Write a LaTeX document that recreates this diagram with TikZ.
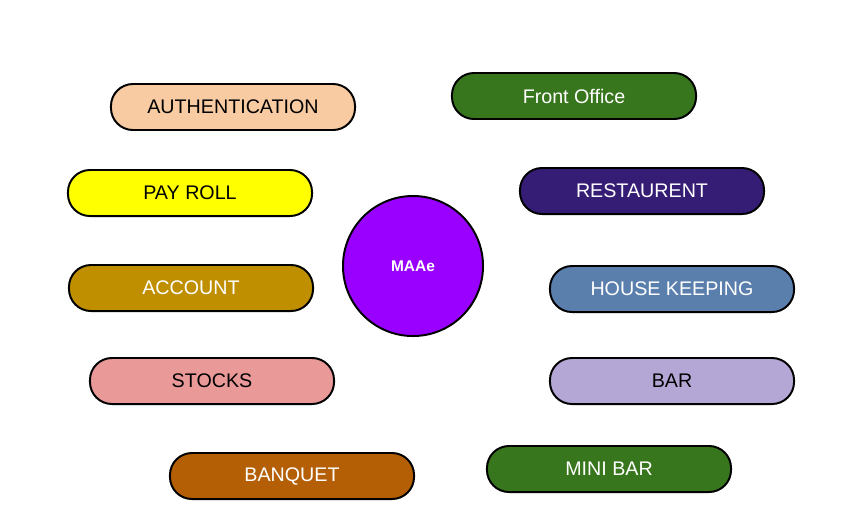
\documentclass[tikz,border=0pt]{standalone}
\usepackage{fontspec}
\setmainfont{Liberation Sans}
\usetikzlibrary{shapes.geometric}

\definecolor{authcol}{HTML}{F8CBA2}
\definecolor{paycol}{HTML}{FFFF00}
\definecolor{acccol}{HTML}{BF8F00}
\definecolor{stockcol}{HTML}{EA9999}
\definecolor{banqcol}{HTML}{B45F06}
\definecolor{greencol}{HTML}{38761D}
\definecolor{restcol}{HTML}{351C75}
\definecolor{housecol}{HTML}{5B7FAD}
\definecolor{barcol}{HTML}{B4A7D6}
\definecolor{maacol}{HTML}{9900FF}

\begin{document}
\begin{tikzpicture}[x=0.025cm,y=-0.025cm,
  pill/.style={rectangle,rounded corners=0.55cm,draw,line width=1.4pt,minimum width=6.1cm,minimum height=1.15cm,font=\fontsize{14}{16}\selectfont}]
\useasboundingbox (0,0) rectangle (852,529);

% left column
\node[pill,fill=authcol] at(233,107) (auth) {AUTHENTICATION};
\node[pill,fill=paycol] at(190,193) (pay) {PAY ROLL};
\node[pill,fill=acccol,text=white] at(191,288) (acc) {ACCOUNT};
\node[pill,fill=stockcol] at(212,381) (stock) {STOCKS};
\node[pill,fill=banqcol,text=white] at(292,476) (banq) {BANQUET};

% right column
\node[pill,fill=greencol,text=white] at(574,96) (front) {Front Office};
\node[pill,fill=restcol,text=white] at(642,191) (rest) {RESTAURENT};
\node[pill,fill=housecol,text=white] at(672,289) (house) {HOUSE KEEPING};
\node[pill,fill=barcol] at(672,381) (bar) {BAR};
\node[pill,fill=greencol,text=white] at(609,469) (minibar) {MINI BAR};

% centre
\node[circle,draw,line width=1.4pt,fill=maacol,text=white,minimum size=3.5cm,font=\fontsize{11}{13}\selectfont\bfseries] at(413,266) (maa) {MAAe};

\end{tikzpicture}
\end{document}
